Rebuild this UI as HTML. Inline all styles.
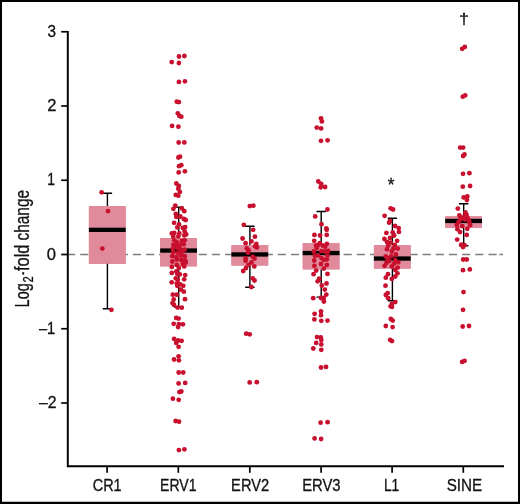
<!DOCTYPE html>
<html lang="en"><head><meta charset="utf-8"><title>Log2-fold change</title>
<style>html,body{margin:0;padding:0;background:#fff}body{width:520px;height:504px;overflow:hidden}svg{display:block}text{font-family:'Liberation Sans', sans-serif;fill:#111;stroke:#111;stroke-width:0.3px}</style></head><body>
<svg width="520" height="504" viewBox="0 0 520 504">
<rect x="0" y="0" width="520" height="504" fill="#fff"/>
<path d="M0 0H520V504H0ZM2 2V501.7H518V2Z" fill="#000" fill-rule="evenodd"/>
<rect x="88.9" y="206.1" width="36.8" height="57.7" fill="#e08a9b"/>
<rect x="160.2" y="238.1" width="36.8" height="28.3" fill="#e08a9b"/>
<rect x="231.4" y="245.0" width="36.8" height="20.6" fill="#e08a9b"/>
<rect x="302.7" y="243.2" width="36.8" height="26.2" fill="#e08a9b"/>
<rect x="373.9" y="245.0" width="36.8" height="23.6" fill="#e08a9b"/>
<rect x="445.2" y="216.3" width="36.8" height="11.7" fill="#e08a9b"/>
<path d="M67 254.5H497.5M499.4 254.5H503.1" stroke="#7e7e7e" stroke-width="1.35" stroke-dasharray="8.2 4.97" fill="none"/>
<rect x="88.9" y="206.1" width="36.8" height="57.7" fill="#e08a9b"/>
<rect x="88.9" y="227.7" width="36.8" height="4.3" fill="#000"/>
<path d="M107.4 193.2V206.1M107.4 263.8V308.8M102.7 193.2H112.1M102.7 308.8H112.1" stroke="#000" stroke-width="1.4" fill="none"/>
<rect x="160.2" y="238.1" width="36.8" height="28.3" fill="#e08a9b"/>
<rect x="160.2" y="248.4" width="36.8" height="4.3" fill="#000"/>
<path d="M178.7 207.1V238.1M178.7 266.4V307.0M174.0 207.1H183.3M174.0 307.0H183.3" stroke="#000" stroke-width="1.4" fill="none"/>
<rect x="231.4" y="245.0" width="36.8" height="20.6" fill="#e08a9b"/>
<rect x="231.4" y="252.3" width="36.8" height="4.3" fill="#000"/>
<path d="M249.9 226.2V245.0M249.9 265.6V287.3M245.2 226.2H254.6M245.2 287.3H254.6" stroke="#000" stroke-width="1.4" fill="none"/>
<rect x="302.7" y="243.2" width="36.8" height="26.2" fill="#e08a9b"/>
<rect x="302.7" y="250.9" width="36.8" height="4.3" fill="#000"/>
<path d="M321.2 211.5V243.2M321.2 269.4V297.1M316.5 211.5H325.9M316.5 297.1H325.9" stroke="#000" stroke-width="1.4" fill="none"/>
<rect x="373.9" y="245.0" width="36.8" height="23.6" fill="#e08a9b"/>
<rect x="373.9" y="256.4" width="36.8" height="4.3" fill="#000"/>
<path d="M392.4 218.2V245.0M392.4 268.6V300.7M387.7 218.2H397.1M387.7 300.7H397.1" stroke="#000" stroke-width="1.4" fill="none"/>
<rect x="445.2" y="216.3" width="36.8" height="11.7" fill="#e08a9b"/>
<rect x="445.2" y="218.8" width="36.8" height="4.3" fill="#000"/>
<path d="M463.7 203.7V216.3M463.7 228.0V245.8M459.0 203.7H468.4M459.0 245.8H468.4" stroke="#000" stroke-width="1.4" fill="none"/>
<path d="M67.8 30.9V466.2H504" stroke="#000" stroke-width="1.95" fill="none" stroke-linejoin="miter"/>
<line x1="61.2" y1="31.75" x2="67.8" y2="31.75" stroke="#000" stroke-width="1.7"/>
<line x1="61.2" y1="106.00" x2="67.8" y2="106.00" stroke="#000" stroke-width="1.7"/>
<line x1="61.2" y1="180.25" x2="67.8" y2="180.25" stroke="#000" stroke-width="1.7"/>
<line x1="61.2" y1="254.50" x2="67.8" y2="254.50" stroke="#000" stroke-width="1.7"/>
<line x1="61.2" y1="328.75" x2="67.8" y2="328.75" stroke="#000" stroke-width="1.7"/>
<line x1="61.2" y1="403.00" x2="67.8" y2="403.00" stroke="#000" stroke-width="1.7"/>
<line x1="107.1" y1="466.2" x2="107.1" y2="472.8" stroke="#000" stroke-width="1.7"/>
<line x1="178.3" y1="466.2" x2="178.3" y2="472.8" stroke="#000" stroke-width="1.7"/>
<line x1="249.8" y1="466.2" x2="249.8" y2="472.8" stroke="#000" stroke-width="1.7"/>
<line x1="321.1" y1="466.2" x2="321.1" y2="472.8" stroke="#000" stroke-width="1.7"/>
<line x1="392.1" y1="466.2" x2="392.1" y2="472.8" stroke="#000" stroke-width="1.7"/>
<line x1="463.3" y1="466.2" x2="463.3" y2="472.8" stroke="#000" stroke-width="1.7"/>
<g fill="#c8102e">
<circle cx="101.6" cy="192.3" r="2.4"/>
<circle cx="108.0" cy="211.1" r="2.4"/>
<circle cx="102.3" cy="248.6" r="2.4"/>
<circle cx="111.4" cy="309.8" r="2.4"/>
<circle cx="462.2" cy="48.8" r="2.4"/>
<circle cx="464.8" cy="47.0" r="2.4"/>
<circle cx="179.0" cy="56.5" r="2.4"/>
<circle cx="184.4" cy="56.0" r="2.4"/>
<circle cx="171.7" cy="62.1" r="2.4"/>
<circle cx="178.9" cy="63.0" r="2.4"/>
<circle cx="178.9" cy="81.9" r="2.4"/>
<circle cx="184.9" cy="81.3" r="2.4"/>
<circle cx="176.8" cy="101.7" r="2.4"/>
<circle cx="178.9" cy="102.1" r="2.4"/>
<circle cx="177.8" cy="113.3" r="2.4"/>
<circle cx="179.4" cy="115.9" r="2.4"/>
<circle cx="181.3" cy="116.7" r="2.4"/>
<circle cx="172.1" cy="125.9" r="2.4"/>
<circle cx="178.4" cy="126.7" r="2.4"/>
<circle cx="178.7" cy="142.5" r="2.4"/>
<circle cx="184.3" cy="142.4" r="2.4"/>
<circle cx="178.4" cy="157.5" r="2.4"/>
<circle cx="180.0" cy="156.7" r="2.4"/>
<circle cx="179.0" cy="166.2" r="2.4"/>
<circle cx="181.3" cy="165.2" r="2.4"/>
<circle cx="178.7" cy="172.4" r="2.4"/>
<circle cx="184.9" cy="171.3" r="2.4"/>
<circle cx="176.3" cy="183.5" r="2.4"/>
<circle cx="178.8" cy="185.9" r="2.4"/>
<circle cx="178.3" cy="188.7" r="2.4"/>
<circle cx="179.8" cy="191.9" r="2.4"/>
<circle cx="175.8" cy="194.9" r="2.4"/>
<circle cx="178.3" cy="195.7" r="2.4"/>
<circle cx="175.3" cy="205.6" r="2.4"/>
<circle cx="173.4" cy="208.8" r="2.4"/>
<circle cx="181.8" cy="208.3" r="2.4"/>
<circle cx="184.3" cy="211.2" r="2.4"/>
<circle cx="175.8" cy="213.9" r="2.4"/>
<circle cx="176.3" cy="216.9" r="2.4"/>
<circle cx="180.3" cy="216.5" r="2.4"/>
<circle cx="183.8" cy="219.0" r="2.4"/>
<circle cx="185.7" cy="220.0" r="2.4"/>
<circle cx="174.1" cy="222.8" r="2.4"/>
<circle cx="179.0" cy="224.4" r="2.4"/>
<circle cx="177.3" cy="227.4" r="2.4"/>
<circle cx="182.8" cy="227.9" r="2.4"/>
<circle cx="185.2" cy="227.1" r="2.4"/>
<circle cx="171.8" cy="233.4" r="2.4"/>
<circle cx="174.3" cy="232.9" r="2.4"/>
<circle cx="179.3" cy="233.4" r="2.4"/>
<circle cx="184.7" cy="231.4" r="2.4"/>
<circle cx="186.2" cy="234.4" r="2.4"/>
<circle cx="173.3" cy="236.8" r="2.4"/>
<circle cx="178.3" cy="236.4" r="2.4"/>
<circle cx="184.2" cy="235.4" r="2.4"/>
<circle cx="174.3" cy="240.3" r="2.4"/>
<circle cx="176.8" cy="242.3" r="2.4"/>
<circle cx="181.8" cy="240.8" r="2.4"/>
<circle cx="184.7" cy="240.3" r="2.4"/>
<circle cx="173.3" cy="244.8" r="2.4"/>
<circle cx="175.8" cy="245.8" r="2.4"/>
<circle cx="179.8" cy="244.8" r="2.4"/>
<circle cx="183.8" cy="244.3" r="2.4"/>
<circle cx="172.8" cy="248.8" r="2.4"/>
<circle cx="177.3" cy="247.8" r="2.4"/>
<circle cx="180.3" cy="248.8" r="2.4"/>
<circle cx="184.7" cy="249.7" r="2.4"/>
<circle cx="173.3" cy="252.2" r="2.4"/>
<circle cx="177.8" cy="252.7" r="2.4"/>
<circle cx="181.8" cy="252.2" r="2.4"/>
<circle cx="172.3" cy="256.2" r="2.4"/>
<circle cx="176.3" cy="257.2" r="2.4"/>
<circle cx="180.8" cy="255.7" r="2.4"/>
<circle cx="184.7" cy="256.2" r="2.4"/>
<circle cx="172.3" cy="261.5" r="2.4"/>
<circle cx="176.8" cy="259.5" r="2.4"/>
<circle cx="181.3" cy="260.0" r="2.4"/>
<circle cx="185.2" cy="260.5" r="2.4"/>
<circle cx="185.7" cy="262.5" r="2.4"/>
<circle cx="171.8" cy="266.9" r="2.4"/>
<circle cx="176.8" cy="264.9" r="2.4"/>
<circle cx="178.8" cy="267.9" r="2.4"/>
<circle cx="182.8" cy="264.0" r="2.4"/>
<circle cx="184.2" cy="266.4" r="2.4"/>
<circle cx="171.8" cy="272.9" r="2.4"/>
<circle cx="176.3" cy="271.4" r="2.4"/>
<circle cx="177.3" cy="273.9" r="2.4"/>
<circle cx="179.8" cy="274.4" r="2.4"/>
<circle cx="185.2" cy="275.1" r="2.4"/>
<circle cx="175.8" cy="278.3" r="2.4"/>
<circle cx="177.8" cy="279.8" r="2.4"/>
<circle cx="184.2" cy="279.3" r="2.4"/>
<circle cx="171.7" cy="282.3" r="2.4"/>
<circle cx="176.8" cy="283.3" r="2.4"/>
<circle cx="177.3" cy="285.8" r="2.4"/>
<circle cx="180.3" cy="284.3" r="2.4"/>
<circle cx="183.3" cy="285.8" r="2.4"/>
<circle cx="180.8" cy="289.7" r="2.4"/>
<circle cx="183.8" cy="291.7" r="2.4"/>
<circle cx="172.8" cy="294.7" r="2.4"/>
<circle cx="176.8" cy="294.7" r="2.4"/>
<circle cx="176.2" cy="317.9" r="2.4"/>
<circle cx="178.6" cy="318.6" r="2.4"/>
<circle cx="173.7" cy="323.8" r="2.4"/>
<circle cx="178.9" cy="324.1" r="2.4"/>
<circle cx="182.9" cy="324.3" r="2.4"/>
<circle cx="178.1" cy="327.0" r="2.4"/>
<circle cx="174.1" cy="338.9" r="2.4"/>
<circle cx="178.1" cy="340.5" r="2.4"/>
<circle cx="181.6" cy="340.8" r="2.4"/>
<circle cx="176.2" cy="342.9" r="2.4"/>
<circle cx="178.6" cy="346.8" r="2.4"/>
<circle cx="178.6" cy="356.3" r="2.4"/>
<circle cx="174.1" cy="359.5" r="2.4"/>
<circle cx="178.9" cy="360.3" r="2.4"/>
<circle cx="178.7" cy="372.5" r="2.4"/>
<circle cx="183.2" cy="372.5" r="2.4"/>
<circle cx="178.6" cy="383.4" r="2.4"/>
<circle cx="185.2" cy="382.9" r="2.4"/>
<circle cx="179.4" cy="392.1" r="2.4"/>
<circle cx="181.3" cy="391.5" r="2.4"/>
<circle cx="172.9" cy="398.7" r="2.4"/>
<circle cx="178.7" cy="399.8" r="2.4"/>
<circle cx="175.6" cy="421.0" r="2.4"/>
<circle cx="179.0" cy="421.7" r="2.4"/>
<circle cx="178.9" cy="450.1" r="2.4"/>
<circle cx="184.4" cy="449.3" r="2.4"/>
<circle cx="185.0" cy="299.2" r="2.4"/>
<circle cx="173.7" cy="299.5" r="2.4"/>
<circle cx="172.5" cy="303.1" r="2.4"/>
<circle cx="174.0" cy="304.9" r="2.4"/>
<circle cx="177.6" cy="307.6" r="2.4"/>
<circle cx="181.8" cy="307.7" r="2.4"/>
<circle cx="249.8" cy="206.1" r="2.4"/>
<circle cx="253.3" cy="205.7" r="2.4"/>
<circle cx="243.8" cy="224.8" r="2.4"/>
<circle cx="253.1" cy="229.8" r="2.4"/>
<circle cx="254.9" cy="236.7" r="2.4"/>
<circle cx="242.6" cy="238.5" r="2.4"/>
<circle cx="251.5" cy="241.4" r="2.4"/>
<circle cx="245.6" cy="243.2" r="2.4"/>
<circle cx="256.3" cy="244.0" r="2.4"/>
<circle cx="255.1" cy="246.2" r="2.4"/>
<circle cx="256.9" cy="247.4" r="2.4"/>
<circle cx="246.8" cy="248.3" r="2.4"/>
<circle cx="248.6" cy="250.4" r="2.4"/>
<circle cx="248.0" cy="252.7" r="2.4"/>
<circle cx="252.7" cy="256.7" r="2.4"/>
<circle cx="254.5" cy="258.5" r="2.4"/>
<circle cx="245.6" cy="258.5" r="2.4"/>
<circle cx="245.6" cy="260.8" r="2.4"/>
<circle cx="251.5" cy="262.4" r="2.4"/>
<circle cx="248.6" cy="264.8" r="2.4"/>
<circle cx="254.3" cy="266.4" r="2.4"/>
<circle cx="246.0" cy="268.0" r="2.4"/>
<circle cx="243.2" cy="271.0" r="2.4"/>
<circle cx="252.7" cy="278.3" r="2.4"/>
<circle cx="254.5" cy="280.5" r="2.4"/>
<circle cx="251.3" cy="287.0" r="2.4"/>
<circle cx="246.2" cy="333.7" r="2.4"/>
<circle cx="249.7" cy="334.3" r="2.4"/>
<circle cx="249.7" cy="382.4" r="2.4"/>
<circle cx="256.8" cy="382.2" r="2.4"/>
<circle cx="321.0" cy="118.3" r="2.4"/>
<circle cx="321.9" cy="121.4" r="2.4"/>
<circle cx="316.8" cy="127.6" r="2.4"/>
<circle cx="321.1" cy="128.4" r="2.4"/>
<circle cx="321.0" cy="140.8" r="2.4"/>
<circle cx="327.6" cy="140.3" r="2.4"/>
<circle cx="318.3" cy="181.5" r="2.4"/>
<circle cx="321.2" cy="184.0" r="2.4"/>
<circle cx="320.7" cy="187.3" r="2.4"/>
<circle cx="325.1" cy="187.0" r="2.4"/>
<circle cx="327.4" cy="209.5" r="2.4"/>
<circle cx="315.2" cy="216.4" r="2.4"/>
<circle cx="321.5" cy="224.2" r="2.4"/>
<circle cx="326.3" cy="228.3" r="2.4"/>
<circle cx="326.7" cy="229.8" r="2.4"/>
<circle cx="314.4" cy="234.9" r="2.4"/>
<circle cx="320.1" cy="235.5" r="2.4"/>
<circle cx="326.7" cy="234.9" r="2.4"/>
<circle cx="314.2" cy="240.8" r="2.4"/>
<circle cx="319.8" cy="243.2" r="2.4"/>
<circle cx="326.9" cy="243.8" r="2.4"/>
<circle cx="316.0" cy="245.6" r="2.4"/>
<circle cx="318.0" cy="245.0" r="2.4"/>
<circle cx="322.7" cy="245.6" r="2.4"/>
<circle cx="325.1" cy="246.8" r="2.4"/>
<circle cx="316.8" cy="248.0" r="2.4"/>
<circle cx="313.8" cy="251.5" r="2.4"/>
<circle cx="321.5" cy="251.2" r="2.4"/>
<circle cx="325.1" cy="251.5" r="2.4"/>
<circle cx="328.1" cy="251.0" r="2.4"/>
<circle cx="315.0" cy="255.7" r="2.4"/>
<circle cx="318.0" cy="255.4" r="2.4"/>
<circle cx="327.5" cy="255.4" r="2.4"/>
<circle cx="321.5" cy="258.1" r="2.4"/>
<circle cx="323.9" cy="259.9" r="2.4"/>
<circle cx="326.9" cy="259.3" r="2.4"/>
<circle cx="314.2" cy="260.5" r="2.4"/>
<circle cx="321.0" cy="264.0" r="2.4"/>
<circle cx="326.9" cy="264.9" r="2.4"/>
<circle cx="314.4" cy="265.8" r="2.4"/>
<circle cx="323.9" cy="268.5" r="2.4"/>
<circle cx="316.2" cy="270.6" r="2.4"/>
<circle cx="313.6" cy="274.2" r="2.4"/>
<circle cx="327.5" cy="273.9" r="2.4"/>
<circle cx="319.2" cy="278.9" r="2.4"/>
<circle cx="319.2" cy="278.9" r="2.4"/>
<circle cx="317.6" cy="281.3" r="2.4"/>
<circle cx="326.5" cy="283.5" r="2.4"/>
<circle cx="321.8" cy="285.5" r="2.4"/>
<circle cx="324.8" cy="289.6" r="2.4"/>
<circle cx="326.3" cy="294.6" r="2.4"/>
<circle cx="313.2" cy="298.2" r="2.4"/>
<circle cx="321.0" cy="298.0" r="2.4"/>
<circle cx="323.7" cy="298.0" r="2.4"/>
<circle cx="323.9" cy="301.5" r="2.4"/>
<circle cx="321.0" cy="311.4" r="2.4"/>
<circle cx="314.6" cy="313.8" r="2.4"/>
<circle cx="321.0" cy="315.2" r="2.4"/>
<circle cx="314.4" cy="319.4" r="2.4"/>
<circle cx="321.3" cy="320.8" r="2.4"/>
<circle cx="327.5" cy="320.6" r="2.4"/>
<circle cx="317.0" cy="337.1" r="2.4"/>
<circle cx="320.8" cy="337.4" r="2.4"/>
<circle cx="321.3" cy="340.1" r="2.4"/>
<circle cx="316.2" cy="342.9" r="2.4"/>
<circle cx="321.3" cy="344.4" r="2.4"/>
<circle cx="313.3" cy="348.5" r="2.4"/>
<circle cx="321.3" cy="349.8" r="2.4"/>
<circle cx="321.0" cy="367.5" r="2.4"/>
<circle cx="326.0" cy="366.9" r="2.4"/>
<circle cx="320.6" cy="422.7" r="2.4"/>
<circle cx="327.6" cy="422.2" r="2.4"/>
<circle cx="314.6" cy="438.4" r="2.4"/>
<circle cx="321.1" cy="439.0" r="2.4"/>
<circle cx="390.6" cy="208.3" r="2.4"/>
<circle cx="393.0" cy="209.5" r="2.4"/>
<circle cx="384.6" cy="215.8" r="2.4"/>
<circle cx="390.0" cy="221.0" r="2.4"/>
<circle cx="389.1" cy="222.7" r="2.4"/>
<circle cx="395.1" cy="226.0" r="2.4"/>
<circle cx="398.7" cy="228.1" r="2.4"/>
<circle cx="386.4" cy="232.9" r="2.4"/>
<circle cx="392.7" cy="232.5" r="2.4"/>
<circle cx="398.9" cy="231.9" r="2.4"/>
<circle cx="394.1" cy="235.5" r="2.4"/>
<circle cx="390.0" cy="237.9" r="2.4"/>
<circle cx="384.4" cy="239.0" r="2.4"/>
<circle cx="397.1" cy="240.8" r="2.4"/>
<circle cx="387.0" cy="242.0" r="2.4"/>
<circle cx="390.6" cy="242.6" r="2.4"/>
<circle cx="394.7" cy="245.0" r="2.4"/>
<circle cx="388.2" cy="245.6" r="2.4"/>
<circle cx="393.5" cy="248.6" r="2.4"/>
<circle cx="397.7" cy="248.6" r="2.4"/>
<circle cx="387.0" cy="249.2" r="2.4"/>
<circle cx="391.8" cy="251.5" r="2.4"/>
<circle cx="395.9" cy="254.5" r="2.4"/>
<circle cx="385.8" cy="256.3" r="2.4"/>
<circle cx="391.2" cy="256.3" r="2.4"/>
<circle cx="387.6" cy="258.7" r="2.4"/>
<circle cx="395.3" cy="259.9" r="2.4"/>
<circle cx="389.4" cy="261.1" r="2.4"/>
<circle cx="398.3" cy="262.3" r="2.4"/>
<circle cx="386.4" cy="262.9" r="2.4"/>
<circle cx="394.1" cy="263.5" r="2.4"/>
<circle cx="384.6" cy="265.8" r="2.4"/>
<circle cx="391.8" cy="266.4" r="2.4"/>
<circle cx="397.7" cy="267.6" r="2.4"/>
<circle cx="395.3" cy="270.0" r="2.4"/>
<circle cx="397.5" cy="273.3" r="2.4"/>
<circle cx="388.0" cy="274.2" r="2.4"/>
<circle cx="395.3" cy="276.5" r="2.4"/>
<circle cx="385.8" cy="277.7" r="2.4"/>
<circle cx="391.8" cy="278.9" r="2.4"/>
<circle cx="385.5" cy="285.7" r="2.4"/>
<circle cx="387.6" cy="293.2" r="2.4"/>
<circle cx="385.8" cy="295.0" r="2.4"/>
<circle cx="388.2" cy="298.2" r="2.4"/>
<circle cx="395.3" cy="302.1" r="2.4"/>
<circle cx="391.8" cy="303.9" r="2.4"/>
<circle cx="390.6" cy="306.3" r="2.4"/>
<circle cx="392.0" cy="306.9" r="2.4"/>
<circle cx="390.8" cy="319.0" r="2.4"/>
<circle cx="392.7" cy="320.6" r="2.4"/>
<circle cx="385.8" cy="326.0" r="2.4"/>
<circle cx="392.6" cy="327.1" r="2.4"/>
<circle cx="390.1" cy="339.8" r="2.4"/>
<circle cx="392.0" cy="341.1" r="2.4"/>
<circle cx="462.8" cy="96.7" r="2.4"/>
<circle cx="465.2" cy="95.4" r="2.4"/>
<circle cx="460.2" cy="147.6" r="2.4"/>
<circle cx="463.1" cy="147.6" r="2.4"/>
<circle cx="463.1" cy="156.0" r="2.4"/>
<circle cx="464.5" cy="154.5" r="2.4"/>
<circle cx="463.0" cy="173.8" r="2.4"/>
<circle cx="469.4" cy="173.2" r="2.4"/>
<circle cx="462.8" cy="186.7" r="2.4"/>
<circle cx="470.1" cy="186.0" r="2.4"/>
<circle cx="463.7" cy="197.4" r="2.4"/>
<circle cx="467.3" cy="196.4" r="2.4"/>
<circle cx="466.9" cy="200.0" r="2.4"/>
<circle cx="457.8" cy="208.6" r="2.4"/>
<circle cx="465.4" cy="212.5" r="2.4"/>
<circle cx="459.4" cy="215.5" r="2.4"/>
<circle cx="466.6" cy="214.9" r="2.4"/>
<circle cx="461.6" cy="217.9" r="2.4"/>
<circle cx="467.5" cy="217.9" r="2.4"/>
<circle cx="460.4" cy="219.6" r="2.4"/>
<circle cx="468.7" cy="220.2" r="2.4"/>
<circle cx="458.6" cy="222.0" r="2.4"/>
<circle cx="469.3" cy="222.0" r="2.4"/>
<circle cx="456.8" cy="225.0" r="2.4"/>
<circle cx="470.1" cy="225.2" r="2.4"/>
<circle cx="462.2" cy="226.2" r="2.4"/>
<circle cx="467.3" cy="228.8" r="2.4"/>
<circle cx="457.4" cy="229.2" r="2.4"/>
<circle cx="460.1" cy="232.1" r="2.4"/>
<circle cx="466.7" cy="234.9" r="2.4"/>
<circle cx="457.2" cy="239.6" r="2.4"/>
<circle cx="461.3" cy="244.6" r="2.4"/>
<circle cx="464.5" cy="245.2" r="2.4"/>
<circle cx="463.0" cy="247.0" r="2.4"/>
<circle cx="464.2" cy="216.7" r="2.4"/>
<circle cx="464.9" cy="219.6" r="2.4"/>
<circle cx="463.2" cy="259.5" r="2.4"/>
<circle cx="466.7" cy="259.5" r="2.4"/>
<circle cx="463.0" cy="270.2" r="2.4"/>
<circle cx="469.8" cy="269.4" r="2.4"/>
<circle cx="463.5" cy="292.1" r="2.4"/>
<circle cx="463.0" cy="309.8" r="2.4"/>
<circle cx="462.7" cy="326.5" r="2.4"/>
<circle cx="469.0" cy="326.0" r="2.4"/>
<circle cx="462.2" cy="361.9" r="2.4"/>
<circle cx="464.6" cy="360.8" r="2.4"/>
</g>
<text x="47.52" y="36.75" font-size="16.5" textLength="8.52" lengthAdjust="spacingAndGlyphs">3</text>
<text x="47.23" y="111.00" font-size="16.5" textLength="9.19" lengthAdjust="spacingAndGlyphs">2</text>
<text x="47.35" y="185.25" font-size="16.5" textLength="7.74" lengthAdjust="spacingAndGlyphs">1</text>
<text x="46.87" y="259.50" font-size="16.5" textLength="9.22" lengthAdjust="spacingAndGlyphs">0</text>
<text x="38.90" y="333.75" font-size="16.5" textLength="16.26" lengthAdjust="spacingAndGlyphs">–1</text>
<text x="38.90" y="408.00" font-size="16.5" textLength="17.52" lengthAdjust="spacingAndGlyphs">–2</text>
<text x="92.74" y="490.90" font-size="16.7" textLength="28.92" lengthAdjust="spacingAndGlyphs">CR1</text>
<text x="160.04" y="490.90" font-size="16.7" textLength="36.43" lengthAdjust="spacingAndGlyphs">ERV1</text>
<text x="231.09" y="490.90" font-size="16.7" textLength="38.11" lengthAdjust="spacingAndGlyphs">ERV2</text>
<text x="302.18" y="490.90" font-size="16.7" textLength="38.43" lengthAdjust="spacingAndGlyphs">ERV3</text>
<text x="383.97" y="490.90" font-size="16.7" textLength="15.30" lengthAdjust="spacingAndGlyphs">L1</text>
<text x="446.72" y="490.90" font-size="16.7" textLength="35.53" lengthAdjust="spacingAndGlyphs">SINE</text>
<text x="387.64" y="191.00" font-size="18" textLength="6.71" lengthAdjust="spacingAndGlyphs">*</text>
<text x="458.93" y="23.75" font-size="15.4" textLength="10.01" lengthAdjust="spacingAndGlyphs">†</text>
<text transform="rotate(-90)" font-size="20"><tspan x="-307.17" y="28.80" font-size="20" textLength="23.96" lengthAdjust="spacingAndGlyphs">Log</tspan><tspan x="-282.47" y="33.10" font-size="15" textLength="6.31" lengthAdjust="spacingAndGlyphs">2</tspan><tspan x="-274.93" y="28.80" font-size="20" textLength="3.28" lengthAdjust="spacingAndGlyphs">-</tspan><tspan x="-271.11" y="28.80" font-size="20" textLength="26.64" lengthAdjust="spacingAndGlyphs">fold</tspan> <tspan x="-240.47" y="28.80" font-size="20" textLength="50.55" lengthAdjust="spacingAndGlyphs">change</tspan></text>
</svg></body></html>
